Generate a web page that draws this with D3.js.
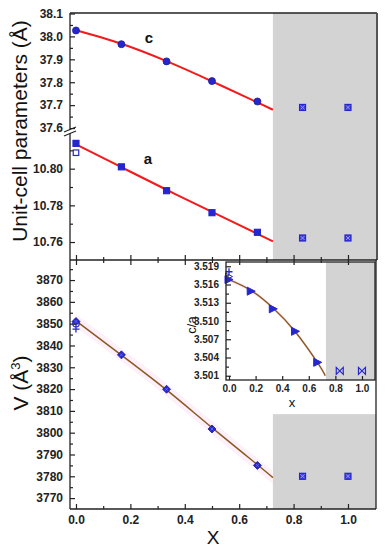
<!DOCTYPE html>
<html>
<head>
<meta charset="utf-8">
<script src="https://cdn.jsdelivr.net/npm/d3@7"></script>
<style>
body{margin:0;background:#fff;}
text{font-family:"Liberation Sans",Arial,sans-serif;}
</style>
</head>
<body>
<div id="vis"></div>
<script>
// composition x values
var xData = [0, 0.167, 0.333, 0.5, 0.667];
var xGray = [0.833, 1.0];
var xBoundary = 0.724; // start of the grey (second phase) zone

// lattice parameter c (A)
var cVals = [38.026, 37.966, 37.891, 37.805, 37.716];
var cGray = [37.690, 37.690];
var cFit = [38.027, 37.968, 37.892, 37.804, 37.712, 37.680];

// lattice parameter a (A)
var aVals = [10.8138, 10.8010, 10.7880, 10.7760, 10.7653];
var aGray = [10.7622, 10.7622];
var aOpen = [10.8087];
var aFit = [10.8133, 10.8008, 10.7885, 10.7764, 10.7645, 10.7604];

// cell volume V (A^3)
var vVals = [3851, 3835.7, 3819.9, 3801.7, 3785];
var vGray = [3780, 3780];
var vOpen = [3850];
var vPlus = [3847.5];
var vFit = [3851.3, 3835.6, 3819.6, 3802.3, 3785.3, 3779.4];

// c/a ratio (inset)
var caVals = [3.5168, 3.5149, 3.5120, 3.5083, 3.5032];
var caGray = [3.5018, 3.5018];
var caOpen = [3.5173];
var caPlus = [3.5181];
var caFit = [3.5168, 3.5150, 3.5121, 3.5082, 3.5031, 3.5010];

var xFit = [0, 0.167, 0.333, 0.5, 0.667, 0.724];

// ticks
var xTicks = [0, 0.2, 0.4, 0.6, 0.8, 1.0];
var xMinor = [0.1, 0.3, 0.5, 0.7, 0.9];
var cTicks = [37.6, 37.7, 37.8, 37.9, 38.0, 38.1];
var cMinor = [37.65, 37.75, 37.85, 37.95, 38.05];
var aTicks = [10.76, 10.78, 10.80];
var aMinor = [10.77, 10.79, 10.81];
var vTicks = [3770, 3780, 3790, 3800, 3810, 3820, 3830, 3840, 3850, 3860, 3870];
var vMinor = [3775, 3785, 3795, 3805, 3815, 3825, 3835, 3845, 3855, 3865, 3875];
var caTicks = [3.501, 3.504, 3.507, 3.510, 3.513, 3.516, 3.519];
var caMinor = [3.5025, 3.5055, 3.5085, 3.5115, 3.5145, 3.5175];

var svgW = 386, svgH = 550;
var blue = '#2626cf', red = '#f21a1a', brown = '#8a5a1e', grey = '#d3d3d3';

var svg = d3.select('#vis').append('svg').attr('width', svgW).attr('height', svgH);
var g = svg.append('g');

// scales
var L = 70, R = 376, T = 13, MID = 260, B = 509;
var x = d3.scaleLinear().domain([-0.022, 1.103]).range([L, R]);
var yc = d3.scaleLinear().domain([37.585, 38.1]).range([131.5, 13.5]);
var ya = d3.scaleLinear().domain([10.7502, 10.82]).range([MID, 132]);
var yv = d3.scaleLinear().domain([3765, 3879.2]).range([B, MID]);

// grey zones
g.append('rect').attr('x', x(xBoundary)).attr('y', T).attr('width', R - x(xBoundary)).attr('height', MID - T).style('fill', grey);
g.append('rect').attr('x', x(xBoundary)).attr('y', yv(3808.5)).attr('width', R - x(xBoundary)).attr('height', B - yv(3808.5)).style('fill', grey);

// marker helpers
function circ(obj, cx, cy, r) {
    return obj.append('circle').attr('cx', cx).attr('cy', cy).attr('r', r).style('fill', blue).style('stroke', '#1a1a9a').style('stroke-width', 0.8);
}
function square(obj, cx, cy, s, filled) {
    return obj.append('rect').attr('x', cx - s / 2).attr('y', cy - s / 2).attr('width', s).attr('height', s)
        .style('fill', filled ? blue : '#fff').style('stroke', blue).style('stroke-width', 1.2);
}
function crossSquare(obj, cx, cy) {
    var s = 6;
    square(obj, cx, cy, s, true).style('fill', '#3c3cd8');
    obj.append('path').attr('d', 'M' + (cx - 2) + ',' + (cy - 2) + 'L' + (cx + 2) + ',' + (cy + 2) + 'M' + (cx - 2) + ',' + (cy + 2) + 'L' + (cx + 2) + ',' + (cy - 2))
        .style('stroke', '#9a9af0').style('stroke-width', 1);
}
function diamond(obj, cx, cy, s) {
    obj.append('path').attr('d', 'M' + cx + ',' + (cy - s) + 'L' + (cx + s) + ',' + cy + 'L' + cx + ',' + (cy + s) + 'L' + (cx - s) + ',' + cy + 'Z')
        .style('fill', blue).style('stroke', '#1a1a9a').style('stroke-width', 0.8);
    obj.append('path').attr('d', 'M' + (cx - 1.5) + ',' + (cy - 1.5) + 'L' + (cx + 1.5) + ',' + (cy + 1.5) + 'M' + (cx - 1.5) + ',' + (cy + 1.5) + 'L' + (cx + 1.5) + ',' + (cy - 1.5))
        .style('stroke', '#7070e8').style('stroke-width', 0.8);
}
function plus(obj, cx, cy, s) {
    obj.append('path').attr('d', 'M' + (cx - s) + ',' + cy + 'L' + (cx + s) + ',' + cy + 'M' + cx + ',' + (cy - s) + 'L' + cx + ',' + (cy + s))
        .style('stroke', blue).style('stroke-width', 1.3);
}
function triRight(obj, cx, cy, s, filled) {
    obj.append('path').attr('d', 'M' + (cx - s) + ',' + (cy - s) + 'L' + (cx + s) + ',' + cy + 'L' + (cx - s) + ',' + (cy + s) + 'Z')
        .style('fill', filled ? blue : 'none').style('stroke', blue).style('stroke-width', 1);
}
function bowtie(obj, cx, cy, s) {
    obj.append('path').attr('d', 'M' + (cx - s) + ',' + (cy - s) + 'L' + (cx + s) + ',' + (cy + s) + 'L' + (cx + s) + ',' + (cy - s) + 'L' + (cx - s) + ',' + (cy + s) + 'Z')
        .style('fill', 'none').style('stroke', blue).style('stroke-width', 1.2);
}

// axis helper: ticks inside
function styleAxis(sel, size) {
    sel.select('.domain').remove();
    sel.selectAll('line').style('stroke', '#222').style('stroke-width', 1.2);
    sel.selectAll('text').style('font-size', size + 'px').style('font-weight', 'bold').style('fill', '#222')
        .style('font-family', '"Liberation Sans",Arial,sans-serif');
}
function leftAxis(obj, scale, xpos, major, minor, fmt, fs) {
    var a = obj.append('g').attr('transform', 'translate(' + xpos + ',0)')
        .call(d3.axisLeft(scale).tickValues(major).tickSize(-5).tickPadding(7).tickFormat(fmt));
    styleAxis(a, fs);
    var m = obj.append('g').attr('transform', 'translate(' + xpos + ',0)')
        .call(d3.axisLeft(scale).tickValues(minor).tickSize(-3).tickFormat(''));
    styleAxis(m, fs);
}
function hAxis(obj, scale, ypos, major, minor, dir, labels, fs) {
    var mk = dir === 'up' ? d3.axisBottom : d3.axisTop;
    var a = obj.append('g').attr('transform', 'translate(0,' + ypos + ')')
        .call(mk(scale).tickValues(major).tickSize(-5).tickPadding(6).tickFormat(labels ? d3.format('.1f') : ''));
    styleAxis(a, fs);
    var m = obj.append('g').attr('transform', 'translate(0,' + ypos + ')')
        .call(mk(scale).tickValues(minor).tickSize(-3).tickFormat(''));
    styleAxis(m, fs);
}

// ---- top panel: lattice parameters ----
var line = d3.line().curve(d3.curveNatural);
g.append('path').attr('d', line(xFit.map(function (d, i) { return [x(d), yc(cFit[i])]; })))
    .style('fill', 'none').style('stroke', red).style('stroke-width', 2);
g.append('path').attr('d', line(xFit.map(function (d, i) { return [x(d), ya(aFit[i])]; })))
    .style('fill', 'none').style('stroke', red).style('stroke-width', 2);

xData.forEach(function (d, i) { circ(g, x(d), yc(cVals[i]), 3.5); });
xGray.forEach(function (d, i) { crossSquare(g, x(d), yc(cGray[i])); });
square(g, x(0), ya(aOpen[0]), 5.5, false);
xData.forEach(function (d, i) { square(g, x(d), ya(aVals[i]), 6, true); });
xGray.forEach(function (d, i) { crossSquare(g, x(d), ya(aGray[i])); });

g.append('text').text('c').attr('x', 149).attr('y', 43).attr('text-anchor', 'middle')
    .style('font-size', '15px').style('font-weight', 'bold').style('fill', '#111');
g.append('text').text('a').attr('x', 148).attr('y', 164).attr('text-anchor', 'middle')
    .style('font-size', '15px').style('font-weight', 'bold').style('fill', '#111');

// frame of top panel
g.append('line').attr('x1', L).attr('y1', T).attr('x2', R + 1).attr('y2', T).style('stroke', '#222').style('stroke-width', 1.3);
g.append('line').attr('x1', R + 1).attr('y1', T).attr('x2', R + 1).attr('y2', MID).style('stroke', '#555').style('stroke-width', 2);
g.append('line').attr('x1', L).attr('y1', T).attr('x2', L).attr('y2', MID).style('stroke', '#222').style('stroke-width', 1.3);

leftAxis(g, yc, L, cTicks, cMinor, d3.format('.1f'), 12);
leftAxis(g, ya, L, aTicks, aMinor, d3.format('.2f'), 12);
hAxis(g, x, MID, xTicks, xMinor, 'up', false, 12);

// axis break
g.append('rect').attr('x', L - 2).attr('y', 129.5).attr('width', 4).attr('height', 4).style('fill', '#fff');
g.append('path').attr('d', 'M64,132L76,127M64,136L76,131').style('stroke', '#222').style('stroke-width', 1.2);

// ---- bottom panel: volume ----
var band = d3.area().curve(d3.curveNatural)
    .x(function (d, i) { return x(xFit[i]); })
    .y0(function (d) { return yv(d - 3); })
    .y1(function (d) { return yv(d + 3); });
g.append('path').attr('d', band(vFit)).style('fill', '#fdf0fb');
g.append('path').attr('d', line(xFit.map(function (d, i) { return [x(d), yv(vFit[i])]; })))
    .style('fill', 'none').style('stroke', brown).style('stroke-width', 1.5);

g.append('circle').attr('cx', x(0)).attr('cy', yv(vOpen[0])).attr('r', 3.2).style('fill', 'none').style('stroke', blue).style('stroke-width', 1.2);
plus(g, x(0), yv(vPlus[0]), 3.5);
xData.forEach(function (d, i) { diamond(g, x(d), yv(vVals[i]), 4); });
xGray.forEach(function (d, i) {
    crossSquare(g, x(d), yv(vGray[i]));
});

// frame of bottom panel
g.append('line').attr('x1', L).attr('y1', MID).attr('x2', L).attr('y2', B).style('stroke', '#222').style('stroke-width', 1.3);
g.append('line').attr('x1', R).attr('y1', MID).attr('x2', R).attr('y2', B).style('stroke', '#222').style('stroke-width', 1.3);
g.append('line').attr('x1', L).attr('y1', B).attr('x2', R).attr('y2', B).style('stroke', '#222').style('stroke-width', 1.3);
g.append('line').attr('x1', L).attr('y1', MID).attr('x2', R + 1).attr('y2', MID).style('stroke', '#222').style('stroke-width', 1.3);

leftAxis(g, yv, L, vTicks, vMinor, d3.format('d'), 12);
hAxis(g, x, B, xTicks, xMinor, 'up', true, 12);

// ---- inset: c/a ----
var iL = 226, iR = 375, iT = 262, iB = 380;
var xi = d3.scaleLinear().domain([-0.0226, 1.098]).range([iL, iR]);
var yi = d3.scaleLinear().domain([3.5003, 3.5197]).range([iB, iT]);
var ins = svg.append('g');
ins.append('rect').attr('x', iL).attr('y', iT).attr('width', iR - iL).attr('height', iB - iT).style('fill', '#fff');
ins.append('rect').attr('x', xi(0.729)).attr('y', iT).attr('width', iR - xi(0.729)).attr('height', iB - iT).style('fill', grey);

var bandI = d3.area().curve(d3.curveNatural)
    .x(function (d, i) { return xi(xFit[i]); })
    .y0(function (d) { return yi(d - 0.0004); })
    .y1(function (d) { return yi(d + 0.0004); });
ins.append('path').attr('d', bandI(caFit)).style('fill', '#fdf0fb');
ins.append('path').attr('d', line(xFit.map(function (d, i) { return [xi(d), yi(caFit[i])]; })))
    .style('fill', 'none').style('stroke', brown).style('stroke-width', 1.4);

plus(ins, xi(0), yi(caPlus[0]), 3.5);
triRight(ins, xi(0), yi(caOpen[0]), 3.5, false);
xData.forEach(function (d, i) { triRight(ins, xi(d), yi(caVals[i]), 4, true); });
xGray.forEach(function (d, i) { bowtie(ins, xi(d), yi(caGray[i]), 3.5); });

ins.append('rect').attr('x', iL).attr('y', iT).attr('width', iR - iL).attr('height', iB - iT)
    .style('fill', 'none').style('stroke', '#222').style('stroke-width', 1.3);
leftAxis(ins, yi, iL, caTicks, caMinor, d3.format('.3f'), 10);
var ia = ins.append('g').attr('transform', 'translate(0,' + iB + ')')
    .call(d3.axisBottom(xi).tickValues(xTicks).tickSize(-4).tickPadding(5).tickFormat(d3.format('.1f')));
styleAxis(ia, 10);

ins.append('text').text('c/a').attr('transform', 'translate(196,325) rotate(-90)').attr('text-anchor', 'middle')
    .style('font-size', '13px').style('fill', '#111');
ins.append('text').text('x').attr('x', 292).attr('y', 407).attr('text-anchor', 'middle')
    .style('font-size', '13px').style('fill', '#111');

// main top ticks of the volume panel drawn above the inset
hAxis(svg, x, MID, xTicks, xMinor, 'down', false, 12);

// ---- axis titles ----
svg.append('text').text('Unit-cell parameters (Å)').attr('transform', 'translate(27,131) rotate(-90)')
    .attr('text-anchor', 'middle').style('font-size', '21px').style('fill', '#111');
var vt = svg.append('text').attr('transform', 'translate(28,383) rotate(-90)')
    .attr('text-anchor', 'middle').style('font-size', '21px').style('fill', '#111');
vt.append('tspan').text('V (Å');
vt.append('tspan').text('3').attr('dy', -8).style('font-size', '13px');
vt.append('tspan').text(')').attr('dy', 8);
svg.append('text').text('X').attr('x', 213).attr('y', 544).attr('text-anchor', 'middle')
    .style('font-size', '19px').style('fill', '#111');
</script>
</body>
</html>
